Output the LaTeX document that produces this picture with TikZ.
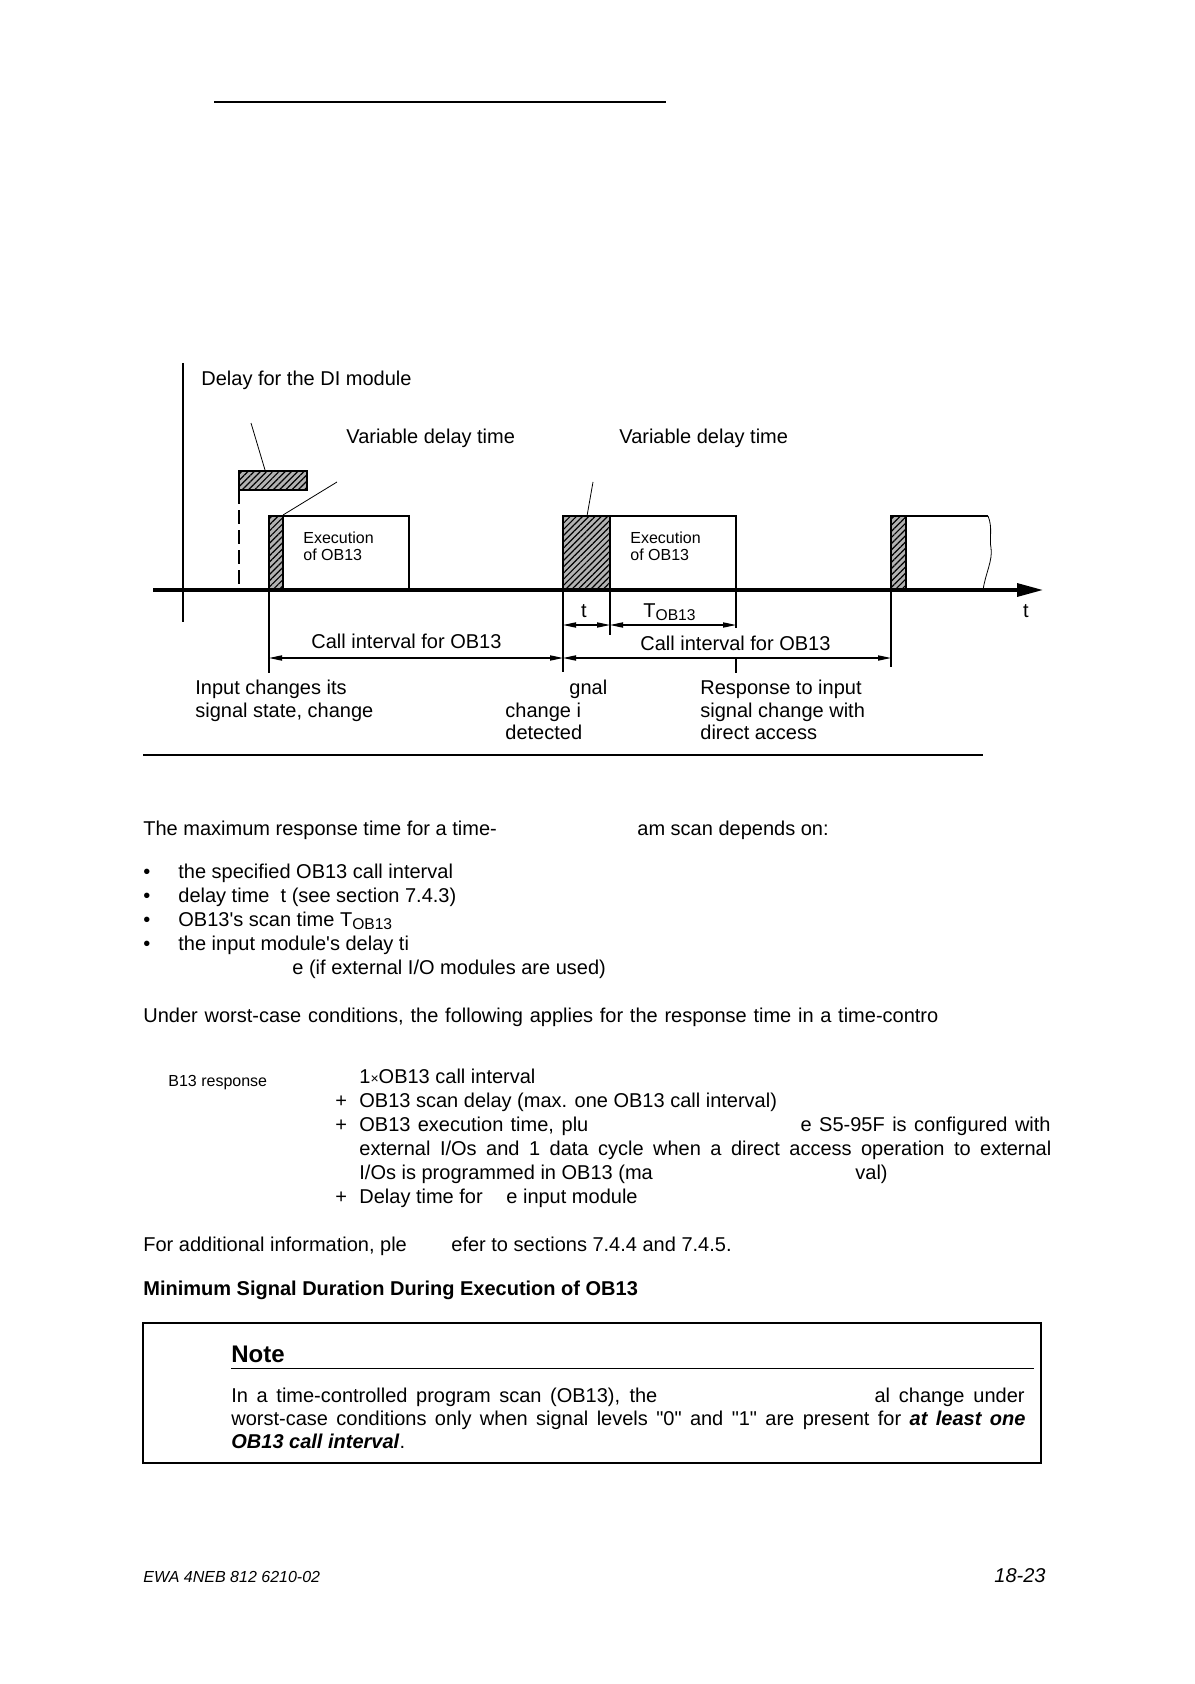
\documentclass[tikz,border=0pt]{standalone}
\usepackage{fontspec}
\setmainfont{Liberation Sans}[Ligatures=TeXOff]
\usetikzlibrary{arrows.meta,patterns.meta}
\begin{document}
\begin{tikzpicture}[x=0.5pt,y=-0.5pt,
  txt/.style={anchor=base west,inner sep=0pt,font=\fontsize{10}{12}\selectfont},
  txtr/.style={anchor=base east,inner sep=0pt,font=\fontsize{10}{12}\selectfont},
  txtc/.style={anchor=base,inner sep=0pt,font=\fontsize{10}{12}\selectfont},
  smalltxt/.style={anchor=base west,inner sep=0pt,font=\fontsize{8}{9.6}\selectfont},
  hatchbox/.style={draw,line width=1pt,fill=black!30,postaction={pattern={Lines[angle=45,distance=2.2pt,line width=0.6pt]}}},
  boxln/.style={draw,line width=1pt},
  thinln/.style={line width=0.55pt},
  leader/.style={line width=0.4pt},
  dimarr/.style={line width=0.55pt,{Triangle[length=6.5pt,width=2.6pt]}-{Triangle[length=6.5pt,width=2.6pt]}},
  axisln/.style={line width=1.6pt,-{Triangle[length=13pt,width=6.5pt]}},
]
\fill[white] (0,0) rectangle (1194,1684);
\useasboundingbox (0,0) rectangle (1194,1684);

% top rule
\coordinate (tr0) at (214,102); \coordinate (tr1) at (666,102);
\draw[line width=1pt] (tr0) -- (tr1);

% ---------------- diagram ----------------
\coordinate (di0) at (239,471); \coordinate (di1) at (307,490);
\draw[hatchbox] (di0) rectangle (di1);
\coordinate (ds0) at (239,490); \coordinate (ds1) at (239,590);
\draw[line width=1pt,dash pattern=on 7pt off 3pt] (ds0) -- (ds1);

\coordinate (h1a) at (269,516); \coordinate (h1b) at (283,590);
\coordinate (e1a) at (283,516); \coordinate (e1b) at (409,590);
\draw[boxln] (e1a) rectangle (e1b);
\draw[hatchbox] (h1a) rectangle (h1b);

\coordinate (h2a) at (563,516); \coordinate (h2b) at (610,590);
\coordinate (e2a) at (610,516); \coordinate (e2b) at (736,590);
\draw[boxln] (e2a) rectangle (e2b);
\draw[hatchbox] (h2a) rectangle (h2b);

\coordinate (h3a) at (891,516); \coordinate (h3b) at (906,590);
\draw[hatchbox] (h3a) rectangle (h3b);
\coordinate (b3a) at (906,516); \coordinate (b3b) at (988,516); \coordinate (b3c) at (983,590);
\draw[thinln] (b3a) -- (b3b);
\draw[leader] (b3b) .. controls (993,528) and (989,538) .. (991,548) .. controls (993,560) and (985,575) .. (b3c);

% leaders
\coordinate (l1a) at (251,423); \coordinate (l1b) at (265,470);
\draw[leader] (l1a) -- (l1b);
\coordinate (l2a) at (283,515); \coordinate (l2b) at (337,482);
\draw[leader] (l2a) -- (l2b);
\coordinate (l3a) at (593,482); \coordinate (l3b) at (587,516);
\draw[leader] (l3a) -- (l3b);

% axes
\coordinate (va0) at (183,363); \coordinate (va1) at (183,622);
\draw[line width=1.3pt] (va0) -- (va1);
\coordinate (ax0) at (153,590); \coordinate (ax1) at (1043,590);
\draw[axisln] (ax0) -- (ax1);

% dimension lines
\coordinate (v1a) at (269,590); \coordinate (v1b) at (269,673);
\coordinate (v2a) at (563,590); \coordinate (v2b) at (563,672);
\coordinate (v3a) at (610,590); \coordinate (v3b) at (610,635);
\coordinate (v4a) at (736,590); \coordinate (v4b) at (736,628);
\coordinate (v4c) at (736,658); \coordinate (v4d) at (736,673);
\coordinate (v5a) at (891,590); \coordinate (v5b) at (891,667);
\draw[thinln] (v1a) -- (v1b);
\draw[thinln] (v2a) -- (v2b);
\draw[line width=0.9pt] (v3a) -- (v3b);
\draw[thinln] (v4a) -- (v4b);
\draw[thinln] (v4c) -- (v4d);
\draw[thinln] (v5a) -- (v5b);

\coordinate (ta) at (563,625); \coordinate (tb) at (610,625); \coordinate (tc) at (736,625);
\draw[dimarr] (ta) -- (tb);
\draw[dimarr] (tb) -- (tc);
\coordinate (ca) at (269,658); \coordinate (cb) at (563,658); \coordinate (cc) at (891,658);
\draw[dimarr] (ca) -- (cb);
\draw[dimarr] (cb) -- (cc);

% diagram labels
\node[txt] (dilab) at (201,386) {Delay for the DI module};
\node[txt] (var1) at (346,444) {Variable delay time};
\node[txt] (var2) at (619,444) {Variable delay time};
\node[smalltxt] (ex1a) at (303,543) {Execution};
\node[smalltxt] (ex1b) at (303,560) {of OB13};
\node[smalltxt] (ex2a) at (630,543) {Execution};
\node[smalltxt] (ex2b) at (630,560) {of OB13};
\node[txtc] (tlab) at (584,617) {t};
\node[txt] (tob) at (643,617) {T\raisebox{-1.6pt}{\fontsize{7.8}{8}\selectfont OB13}};
\node[txtc] (taxis) at (1026,617) {t};
\node[txt] (ci1) at (311,648) {Call interval for OB13};
\node[txt] (ci2) at (640,650) {Call interval for OB13};
\node[txt] (in1) at (195,694) {Input changes its};
\node[txt] (in2) at (195,717) {signal state, change};
\node[txt] (gn1) at (569,694) {gnal};
\node[txt] (gn2) at (505,717) {change i};
\node[txt] (gn3) at (505,739) {detected};
\node[txt] (rs1) at (700,694) {Response to input};
\node[txt] (rs2) at (700,717) {signal change with};
\node[txt] (rs3) at (700,739) {direct access};

% bottom rule of figure
\coordinate (br0) at (143,755); \coordinate (br1) at (983,755);
\draw[line width=1.3pt] (br0) -- (br1);

% ---------------- body text ----------------
\node[txt] (p1a) at (143,835) {The maximum response time for a time-};
\node[txt] (p1b) at (637,835) {am scan depends on:};
\node[txt] (bu1) at (143,878) {•};
\node[txt] (bt1) at (178,878) {the specified OB13 call interval};
\node[txt] (bu2) at (143,902) {•};
\node[txt] (bt2) at (178,902) {delay time~~t (see section 7.4.3)};
\node[txt] (bu3) at (143,926) {•};
\node[txt] (bt3) at (178,926) {OB13's scan time T\raisebox{-1.6pt}{\fontsize{7.8}{8}\selectfont OB13}};
\node[txt] (bu4) at (143,950) {•};
\node[txt] (bt4) at (178,950) {the input module's delay ti};
\node[txt] (bt5) at (292,974) {e (if external I/O modules are used)};
\node[txt] (p2) at (143,1022) {\makebox[397.5pt][s]{Under worst-case conditions, the following applies for the response time in a time-contro}};

\node[smalltxt] (f0) at (168,1086) {B13 response};
\node[txt] (f1) at (359,1083) {1{\fontsize{7}{8}\selectfont ×}OB13 call interval};
\node[txt] (pl2) at (335,1107) {+};
\node[txt] (f2) at (359,1107) {OB13 scan delay (max. one OB13 call interval)};
\node[txt] (pl3) at (335,1131) {+};
\node[txt] (f3a) at (359,1131) {\makebox[114.5pt][s]{OB13 execution time, plu}};
\node[txtr] (f3b) at (1051,1131) {\makebox[125pt][s]{e S5-95F is configured with}};
\node[txt] (f4) at (359,1155) {\makebox[346pt][s]{external I/Os and 1 data cycle when a direct access operation to external}};
\node[txt] (f5a) at (359,1179) {I/Os is programmed in OB13 (ma};
\node[txt] (f5b) at (855,1179) {val)};
\node[txt] (pl6) at (335,1203) {+};
\node[txt] (f6a) at (359,1203) {Delay time for};
\node[txt] (f6b) at (506,1203) {e input module};

\node[txt] (p3a) at (143,1251) {For additional information, ple};
\node[txt] (p3b) at (451,1251) {efer to sections 7.4.4 and 7.4.5.};
\node[txt,font=\fontsize{10}{12}\selectfont\bfseries] (hd) at (143,1295) {Minimum Signal Duration During Execution of OB13};

% note box
\coordinate (nb0) at (143,1323); \coordinate (nb1) at (1041,1463);
\draw[line width=1.1pt] (nb0) rectangle (nb1);
\node[txt,font=\fontsize{12}{14}\selectfont\bfseries] (note) at (231,1362) {Note};
\coordinate (nr0) at (231,1368); \coordinate (nr1) at (1034,1368);
\draw[line width=0.5pt] (nr0) -- (nr1);
\node[txt] (n1a) at (231,1402) {\makebox[213pt][s]{In a time-controlled program scan (OB13), the}};
\node[txtr] (n1b) at (1025,1402) {\makebox[75pt][s]{al change under}};
\node[txt] (n2) at (231,1425) {\makebox[397pt][s]{worst-case conditions only when signal levels "0" and "1" are present for \textbf{\textit{at least one}}}};
\node[txt] (n3) at (231,1448) {\textbf{\textit{OB13 call interval}}.};

% footer
\node[smalltxt,font=\fontsize{8}{9.6}\selectfont\itshape] (ft1) at (143,1582) {EWA 4NEB 812 6210-02};
\node[txtr,font=\fontsize{10}{12}\selectfont\itshape] (ft2) at (1046,1582) {18-23};
\end{tikzpicture}
\end{document}
